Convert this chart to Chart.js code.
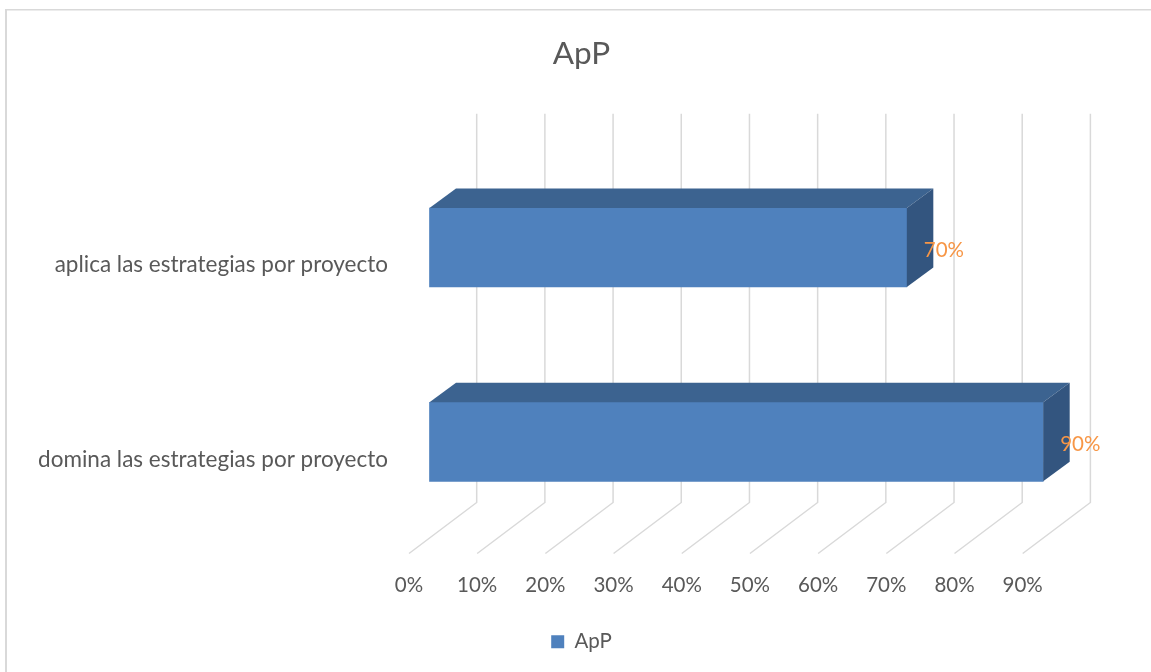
<!DOCTYPE html>
<html>
<head>
<meta charset="utf-8">
<script src="https://cdn.jsdelivr.net/npm/chart.js@4.4.1/dist/chart.umd.min.js"></script>
<style>
  html, body { margin: 0; padding: 0; background: #fff; overflow: hidden; }
  #wrap { width: 1151px; height: 672px; position: relative; }
</style>
</head>
<body>
<div id="wrap"><canvas id="chart"></canvas></div>
<script>
// data
const categories = ['aplica las estrategias por proyecto', 'domina las estrategias por proyecto'];
const seriesName = 'ApP';
const values = [70, 90];
const xMax = 90;
const xStep = 10;

// look
const fontFamily = 'Lato, "Open Sans", sans-serif';
const textColor = '#595959';
const gridColor = '#d9d9d9';
const frontColor = '#4f81bd';
const topColor = '#3c6390';
const sideColor = '#33557f';
const labelColor = '#f79646';

// 3D offsets (front plane -> bar front, bar depth, back wall)
const FRONT = { dx: 20.5, dy: -14.5 };
const DEPTH = { dx: 26.5, dy: -19.5 };
const WALL = { dx: 67.7, dy: -51 };

const bar3d = {
  id: 'bar3d',
  beforeDraw(chart) {
    const ctx = chart.ctx;
    ctx.save();
    ctx.fillStyle = gridColor;
    ctx.fillRect(5, 9, 2, chart.height - 9);
    ctx.fillRect(5, 9, chart.width - 5, 1.5);
    ctx.restore();
  },
  beforeDatasetsDraw(chart) {
    const { ctx, chartArea: a, scales: { x } } = chart;
    ctx.save();
    ctx.strokeStyle = gridColor;
    ctx.lineWidth = 1.5;
    x.ticks.forEach(t => {
      const px = x.getPixelForValue(t.value);
      ctx.beginPath();
      ctx.moveTo(px, a.bottom);
      ctx.lineTo(px + WALL.dx, a.bottom + WALL.dy);
      ctx.lineTo(px + WALL.dx, a.top + WALL.dy);
      ctx.stroke();
    });
    ctx.restore();
    // bars sit a bit behind the front plane
    ctx.save();
    ctx.translate(FRONT.dx, FRONT.dy);
  },
  afterDatasetsDraw(chart) {
    const ctx = chart.ctx;
    const meta = chart.getDatasetMeta(0);
    meta.data.forEach((bar, i) => {
      const { x, y, base, height } = bar.getProps(['x', 'y', 'base', 'height'], true);
      const top = y - height / 2;
      const bot = y + height / 2;
      ctx.fillStyle = topColor;
      ctx.beginPath();
      ctx.moveTo(base, top);
      ctx.lineTo(base + DEPTH.dx, top + DEPTH.dy);
      ctx.lineTo(x + DEPTH.dx, top + DEPTH.dy);
      ctx.lineTo(x, top);
      ctx.closePath();
      ctx.fill();
      ctx.fillStyle = sideColor;
      ctx.beginPath();
      ctx.moveTo(x, top);
      ctx.lineTo(x + DEPTH.dx, top + DEPTH.dy);
      ctx.lineTo(x + DEPTH.dx, bot + DEPTH.dy);
      ctx.lineTo(x, bot);
      ctx.closePath();
      ctx.fill();
      ctx.fillStyle = labelColor;
      ctx.font = '20.5px ' + fontFamily;
      ctx.textAlign = 'left';
      ctx.textBaseline = 'middle';
      ctx.fillText(values[i] + '%', x + 17, y + 2.5);
    });
    ctx.restore();
  }
};

new Chart(document.getElementById('chart'), {
  type: 'bar',
  data: {
    labels: categories,
    datasets: [{
      label: seriesName,
      data: values,
      backgroundColor: frontColor,
      barThickness: 79,
      clip: false
    }]
  },
  options: {
    indexAxis: 'y',
    responsive: true,
    maintainAspectRatio: false,
    animation: false,
    layout: { padding: { left: 12, right: 0, top: 0, bottom: 10 } },
    scales: {
      x: {
        min: 0,
        max: xMax,
        ticks: {
          stepSize: xStep,
          callback: v => v + '%',
          color: textColor,
          font: { family: fontFamily, size: 20.5 },
          padding: 12
        },
        grid: { display: false },
        border: { display: false },
        afterFit: s => { s.height = 68; }
      },
      y: {
        ticks: {
          color: textColor,
          font: { family: fontFamily, size: 22.5 },
          padding: 13,
          labelOffset: 3
        },
        grid: { display: false },
        border: { display: false },
        afterFit: s => { s.width = 397; }
      },
      y2: {
        type: 'category',
        position: 'right',
        ticks: { display: false },
        grid: { display: false },
        border: { display: false },
        afterFit: s => { s.width = 128.3; }
      }
    },
    plugins: {
      title: {
        display: true,
        text: 'ApP',
        color: textColor,
        font: { family: fontFamily, size: 31.5, weight: 'normal' },
        padding: { top: 35, bottom: 92 }
      },
      legend: {
        position: 'bottom',
        labels: {
          boxWidth: 13,
          boxHeight: 13,
          color: textColor,
          font: { family: fontFamily, size: 20.5 }
        }
      },
      tooltip: { enabled: false }
    }
  },
  plugins: [bar3d]
});
</script>
</body>
</html>
